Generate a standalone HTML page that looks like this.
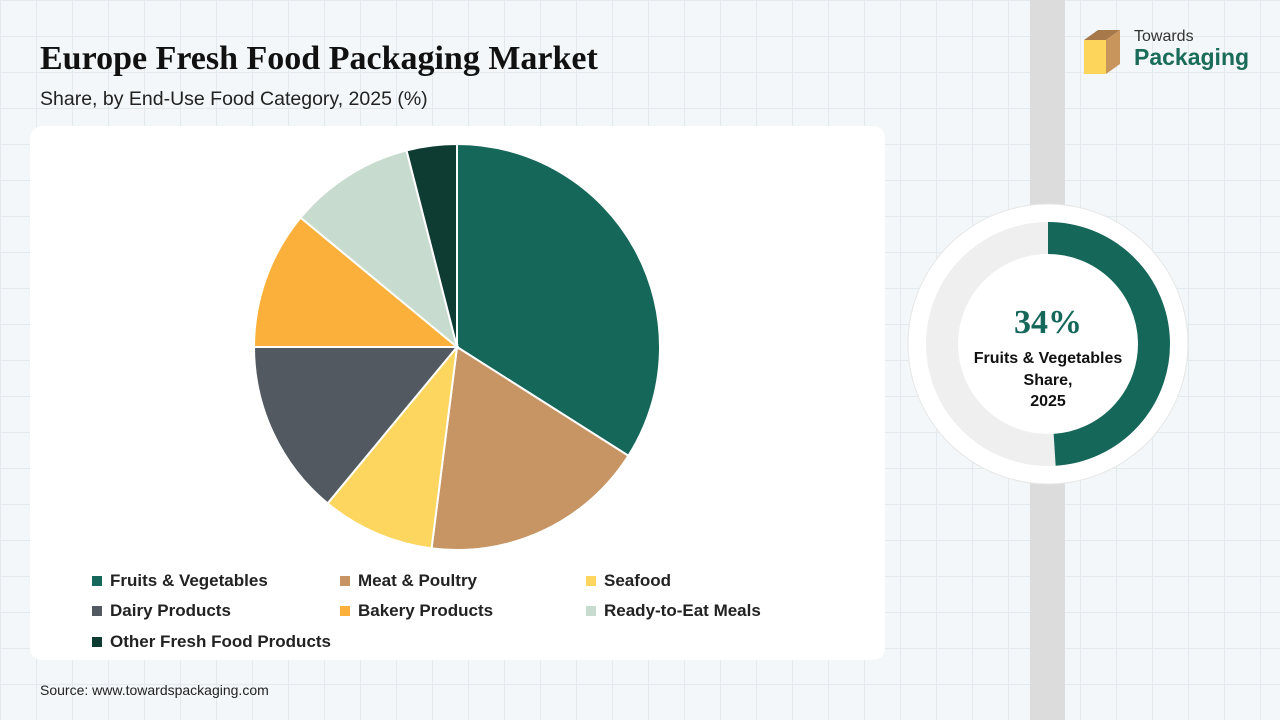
<!DOCTYPE html>
<html><head><meta charset="utf-8">
<style>
body{margin:0;width:1280px;height:720px;overflow:hidden;font-family:"Liberation Sans",sans-serif;
background-color:#f3f7f9;
background-image:linear-gradient(#e3eaee 1px,transparent 1px),linear-gradient(90deg,#e3eaee 1px,transparent 1px);
background-size:36px 36px;position:relative}
.abs{position:absolute}
h1{position:absolute;left:40px;top:40px;margin:0;font-family:"Liberation Serif",serif;font-size:34px;font-weight:bold;color:#111}
.sub{left:40px;top:88px;font-size:19.5px;color:#222}
.card{left:30px;top:126px;width:855px;height:534px;background:#fff;border-radius:12px}
.band{left:1030px;top:0;width:35px;height:720px;background:#dcdcdc}
.leg{font-size:17px;font-weight:bold;color:#222}
.leg span{display:inline-block;width:10px;height:10px;margin-right:8px}
.src{left:40px;top:682px;font-size:14px;color:#222}
</style></head><body>
<div class="abs band"></div>
<h1>Europe Fresh Food Packaging Market</h1>
<div class="abs sub">Share, by End-Use Food Category, 2025 (%)</div>
<div class="abs" style="left:1082px;top:28px">
<svg width="40" height="48"><polygon points="2,12 16,2 38,2 24,12" fill="#a7794a"/><rect x="2" y="12" width="22" height="34" fill="#fdd55b"/><polygon points="24,12 38,2 38,36 24,46" fill="#c8965d"/></svg>
<div class="abs" style="left:52px;top:0;font-size:16px;color:#333">Towards</div>
<div class="abs" style="left:52px;top:16px;font-size:23px;font-weight:bold;color:#1a6b5a">Packaging</div>
</div>
<div class="abs card"></div>
<svg class="abs" style="left:0;top:0" width="1280" height="720" id="chart"></svg>
<div class="abs leg" style="left:92px;top:571px"><span style="background:#15675a"></span>Fruits &amp; Vegetables</div>
<div class="abs leg" style="left:340px;top:571px"><span style="background:#c69563"></span>Meat &amp; Poultry</div>
<div class="abs leg" style="left:586px;top:571px"><span style="background:#fcd65f"></span>Seafood</div>
<div class="abs leg" style="left:92px;top:601px"><span style="background:#525961"></span>Dairy Products</div>
<div class="abs leg" style="left:340px;top:601px"><span style="background:#fbb03b"></span>Bakery Products</div>
<div class="abs leg" style="left:586px;top:601px"><span style="background:#c8dbcf"></span>Ready-to-Eat Meals</div>
<div class="abs leg" style="left:92px;top:632px"><span style="background:#0e3b32"></span>Other Fresh Food Products</div>
<div class="abs" style="left:948px;top:304px;width:200px;text-align:center">
<div style="font-family:'Liberation Serif',serif;font-size:34px;font-weight:bold;color:#15675a">34%</div>
<div style="font-size:16px;font-weight:bold;color:#111;line-height:21.5px;margin-top:6px">Fruits &amp; Vegetables<br>Share,<br>2025</div></div>
<div class="abs src">Source: www.towardspackaging.com</div>
<script>
const categories=["Fruits & Vegetables","Meat & Poultry","Seafood","Dairy Products","Bakery Products","Ready-to-Eat Meals","Other Fresh Food Products"];
const shares=[34,18,9,14,11,10,4];
const colors=["#15675a","#c69563","#fcd65f","#525961","#fbb03b","#c8dbcf","#0e3b32"];
const donutArcPct=[49];
const NS="http://www.w3.org/2000/svg";
const svg=document.getElementById("chart");
const cx=457,cy=347,r=203;
const total=shares.reduce((a,b)=>a+b,0);
function pt(x,y,rad,frac){const a=frac*2*Math.PI;return [x+rad*Math.sin(a),y-rad*Math.cos(a)];}
let acc=0;
shares.forEach((v,i)=>{
 const s=acc/total;acc+=v;const e=acc/total;
 const p1=pt(cx,cy,r,s),p2=pt(cx,cy,r,e);
 const p=document.createElementNS(NS,"path");
 p.setAttribute("d",`M${cx},${cy}L${p1[0]},${p1[1]}A${r},${r} 0 ${e-s>0.5?1:0} 1 ${p2[0]},${p2[1]}Z`);
 p.setAttribute("fill",colors[i]);p.setAttribute("stroke","#fff");p.setAttribute("stroke-width","2");
 
 
 svg.appendChild(p);
});
const dx=1048,dy=344;
const oc=document.createElementNS(NS,"circle");
oc.setAttribute("cx",dx);oc.setAttribute("cy",dy);oc.setAttribute("r",140);oc.setAttribute("fill","#fff");oc.setAttribute("stroke","#e6e6e6");


svg.appendChild(oc);
const bg=document.createElementNS(NS,"circle");
bg.setAttribute("cx",dx);bg.setAttribute("cy",dy);bg.setAttribute("r",106);bg.setAttribute("fill","none");bg.setAttribute("stroke","#efefef");bg.setAttribute("stroke-width","32");


svg.appendChild(bg);
const f=donutArcPct[0]/100,q=pt(dx,dy,106,f),q0=pt(dx,dy,106,0);
const arc=document.createElementNS(NS,"path");
arc.setAttribute("d",`M${q0[0]},${q0[1]}A106,106 0 ${f>0.5?1:0} 1 ${q[0]},${q[1]}`);
arc.setAttribute("fill","none");arc.setAttribute("stroke","#15675a");arc.setAttribute("stroke-width","32");


svg.appendChild(arc);
</script>
</body></html>
